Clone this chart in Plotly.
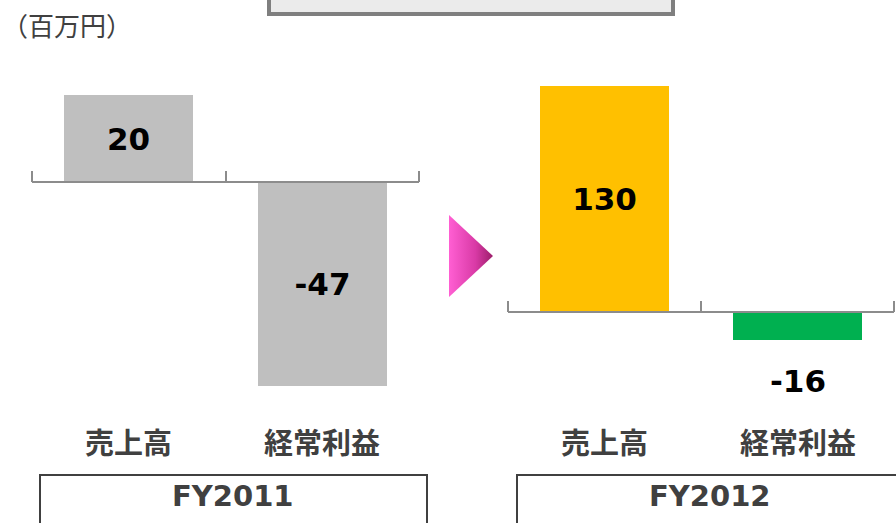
import plotly.graph_objects as go

categories = ["売上高", "経常利益"]
fy2011 = [20, -47]
fy2012 = [130, -16]
periods = ["FY2011", "FY2012"]
unit_label = "（百万円）"

W, H = 896, 523
jp = "Noto Sans CJK JP"
num_font = dict(family="DejaVu Sans", size=31, color="#000000", weight="bold")
pos = list(range(len(categories)))
axis_gray = "#8c8c8c"

fig = go.Figure()

fig.add_trace(go.Bar(
    x=pos, y=fy2011, xaxis="x", yaxis="y",
    marker=dict(color="#bfbfbf", line=dict(width=0)), width=0.665,
    text=[str(v) for v in fy2011], textposition="inside",
    insidetextanchor="middle", textfont=num_font, constraintext="none",
    showlegend=False, hoverinfo="skip",
))
fig.add_trace(go.Bar(
    x=pos, y=fy2012, xaxis="x2", yaxis="y2",
    marker=dict(color=["#ffc000", "#00b050"], line=dict(width=0)), width=0.665,
    text=[str(fy2012[0]), ""], textposition="inside",
    insidetextanchor="middle", textfont=num_font, constraintext="none",
    showlegend=False, hoverinfo="skip",
))

# arrow between the two periods (pixel space overlay)
fig.add_trace(go.Scatter(
    x=[449, 449, 493, 449], y=[215, 297, 256, 215], xaxis="x3", yaxis="y3",
    mode="lines", line=dict(width=0), fill="toself",
    fillgradient=dict(type="horizontal",
                      colorscale=[[0, "#ff5fd3"], [0.6, "#d93aa6"], [1, "#9c1e6a"]]),
    showlegend=False, hoverinfo="skip",
))

n = len(categories)
axis_common = dict(
    type="linear", showline=False, ticks="inside", ticklen=11, tickwidth=2,
    tickcolor=axis_gray, tickmode="array",
    tickvals=[i - 0.5 for i in range(n + 1)],
    showticklabels=False, showgrid=False, zeroline=False, fixedrange=True,
)
yhidden = dict(visible=False, showgrid=False, zeroline=False, fixedrange=True)


def span(left, right, lpad=4, rpad=4):
    # ticks at left/right pixel; a few px of slack so end ticks are kept
    u = (right - left) / n
    d0, d1 = (left - lpad) / W, min(1, (right + rpad) / W)
    r0 = -0.5 - lpad / u
    r1 = n - 0.5 + (d1 * W - right) / u
    return dict(domain=[d0, d1], range=[r0, r1])


fig.update_layout(
    width=W, height=H,
    margin=dict(l=0, r=0, t=0, b=0),
    paper_bgcolor="white", plot_bgcolor="rgba(0,0,0,0)",
    bargap=0,
    xaxis=dict(axis_common, **span(32, 419), anchor="free",
               position=1 - 182 / H),
    yaxis=dict(yhidden, domain=[0, 1], range=[-(H - 182) / 4.33, 182 / 4.33]),
    xaxis2=dict(axis_common, **span(508, 894), anchor="free",
                position=1 - 312 / H),
    yaxis2=dict(yhidden, domain=[0, 1], range=[-(H - 312) / 1.74, 312 / 1.74],
                anchor="x2"),
    xaxis3=dict(visible=False, domain=[0, 1], range=[0, W], fixedrange=True),
    yaxis3=dict(visible=False, domain=[0, 1], range=[H, 0], fixedrange=True,
                anchor="x3"),
)

ann = []
ann.append(dict(x=0, y=1 - 24 / H, xref="paper", yref="paper", xanchor="left",
                yanchor="middle", text=unit_label, showarrow=False,
                font=dict(family=jp, size=26, color="#404040")))
for xr in ["x", "x2"]:
    for i, c in enumerate(categories):
        ann.append(dict(x=i, y=1 - 441 / H, xref=xr, yref="paper", text=c,
                        showarrow=False, xanchor="center", yanchor="middle",
                        font=dict(family=jp, size=29, color="#404040",
                                  weight="bold")))
# value below the small negative bar
ann.append(dict(x=1, y=fy2012[1], xref="x2", yref="y2",
                text=str(fy2012[1]), showarrow=False, xanchor="center",
                yanchor="middle", yshift=-41, font=num_font))
# period boxes
box_x = [(40, 427), (517, 920)]
label_x = [233, 710]
for p, lx in zip(periods, label_x):
    ann.append(dict(x=lx / W, y=1 - 496 / H, xref="paper", yref="paper", text=p,
                    showarrow=False, xanchor="center", yanchor="middle",
                    font=dict(family="DejaVu Sans", size=29, color="#404040",
                              weight="bold")))
fig.update_layout(annotations=ann)

shapes = []
# baselines at zero, spanning the category boundaries
for xr, yr in [("x", "y"), ("x2", "y2")]:
    shapes.append(dict(type="line", xref=xr, yref=yr, x0=-0.5, x1=n - 0.5,
                       y0=0, y1=0, line=dict(color=axis_gray, width=2)))
for a, b in box_x:
    shapes.append(dict(type="rect", xref="paper", yref="paper",
                       x0=a / W, x1=b / W, y0=-0.2, y1=1 - 475 / H,
                       line=dict(color="#404040", width=2),
                       fillcolor="rgba(0,0,0,0)"))
# top title box, mostly cut off
shapes.append(dict(type="rect", xref="paper", yref="paper",
                   x0=269 / W, x1=673 / W, y0=1 - 14 / H, y1=1.1,
                   line=dict(color="#7f7f7f", width=4),
                   fillcolor="#ebebeb", layer="below"))
fig.update_layout(shapes=shapes)

fig.write_html("out.html", config={"displayModeBar": False},
               post_script="document.body.style.margin='0';")
